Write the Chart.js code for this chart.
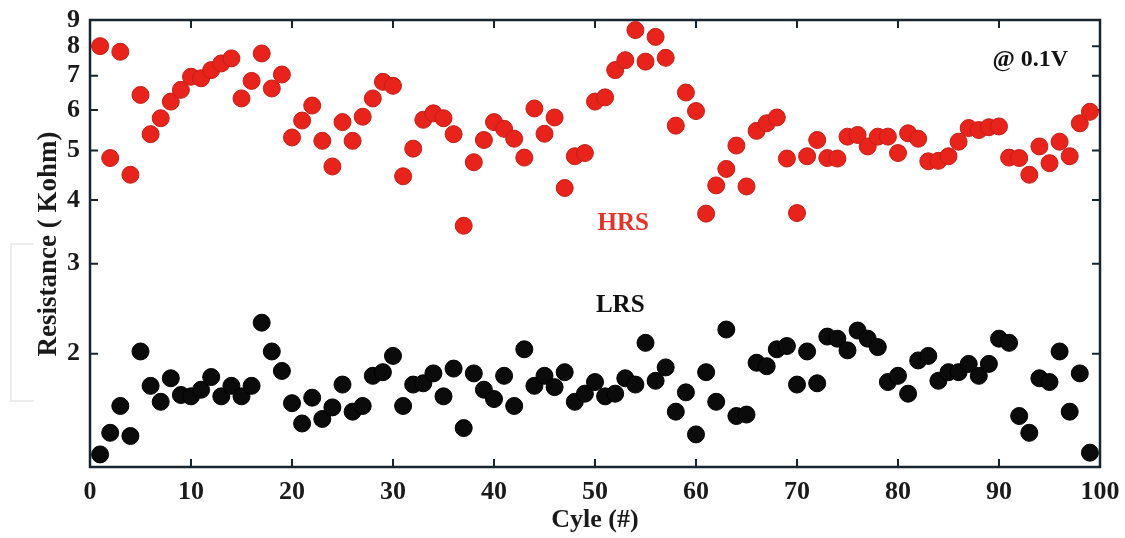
<!DOCTYPE html>
<html>
<head>
<meta charset="utf-8">
<script src="https://cdn.jsdelivr.net/npm/chart.js@4.4.1/dist/chart.umd.min.js"></script>
<style>
  html, body { margin: 0; padding: 0; background: #fff; }
  #wrap { position: relative; width: 1125px; height: 538px; }
  #bracket { position: absolute; left: 10px; top: 243px; width: 22px; height: 155px;
             border: 2px solid #ececec; border-right: none; }
</style>
</head>
<body>
<div id="wrap">
  <div id="bracket"></div>
  <canvas id="chart" width="1125" height="538"></canvas>
</div>
<script>
// --- DATA ---
const cycles = Array.from({ length: 99 }, (_, i) => i + 1);

// HRS, kOhm
const hrs = [
  8.00, 4.83, 7.80, 4.48, 6.42, 5.38, 5.78, 6.23, 6.57, 6.97,
  6.92, 7.18, 7.40, 7.57, 6.32, 6.84, 7.74, 6.61, 7.04, 5.30,
  5.72, 6.12, 5.22, 4.65, 5.68, 5.22, 5.82, 6.32, 6.81, 6.69,
  4.45, 5.04, 5.74, 5.91, 5.78, 5.38, 3.56, 4.74, 5.24, 5.68,
  5.51, 5.27, 4.84, 6.04, 5.39, 5.80, 4.22, 4.87, 4.94, 6.23,
  6.35, 7.18, 7.51, 8.60, 7.46, 8.34, 7.59, 5.59, 6.49, 5.97,
  3.76, 4.27, 4.60, 5.11, 4.25, 5.46, 5.65, 5.80, 4.82, 3.77,
  4.87, 5.24, 4.83, 4.82, 5.32, 5.36, 5.09, 5.32, 5.32, 4.94,
  5.40, 5.27, 4.76, 4.77, 4.87, 5.20, 5.53, 5.48, 5.55, 5.57,
  4.84, 4.83, 4.48, 5.09, 4.72, 5.20, 4.87, 5.65, 5.95
];

// LRS, kOhm
const lrs = [
  1.27, 1.40, 1.58, 1.38, 2.02, 1.73, 1.61, 1.79, 1.66, 1.65,
  1.70, 1.80, 1.65, 1.73, 1.65, 1.73, 2.30, 2.02, 1.85, 1.60,
  1.46, 1.64, 1.49, 1.57, 1.74, 1.54, 1.58, 1.81, 1.84, 1.98,
  1.58, 1.74, 1.75, 1.83, 1.65, 1.87, 1.43, 1.83, 1.70, 1.63,
  1.81, 1.58, 2.04, 1.73, 1.81, 1.72, 1.84, 1.61, 1.67, 1.76,
  1.65, 1.67, 1.79, 1.74, 2.10, 1.77, 1.88, 1.54, 1.68, 1.39,
  1.84, 1.61, 2.23, 1.51, 1.52, 1.92, 1.89, 2.04, 2.07, 1.74,
  2.02, 1.75, 2.16, 2.14, 2.03, 2.22, 2.14, 2.06, 1.76, 1.81,
  1.67, 1.94, 1.98, 1.77, 1.84, 1.84, 1.91, 1.81, 1.91, 2.14,
  2.10, 1.51, 1.40, 1.79, 1.76, 2.02, 1.54, 1.83, 1.28
];

const yTicks = [2, 3, 4, 5, 6, 7, 8, 9];
const xTicks = [0, 10, 20, 30, 40, 50, 60, 70, 80, 90, 100];

// text notes placed in data coordinates
const notes = [
  { text: 'HRS', x: 52.8, y: 3.6, color: '#e0352c', size: 25 },
  { text: 'LRS', x: 52.5, y: 2.49, color: '#111111', size: 25 },
  { text: '@ 0.1V', x: 93.1, y: 7.52, color: '#111111', size: 24 }
];

const FONT = '"Liberation Serif", "Times New Roman", serif';
const INK = '#16252f';

// frame, inward ticks, titles and notes
const framePlugin = {
  id: 'frame',
  beforeDatasetsDraw(chart) {
    const { ctx, chartArea: a, scales: { x, y } } = chart;
    ctx.save();
    ctx.strokeStyle = INK;
    ctx.lineWidth = 2;
    xTicks.forEach(v => {
      const px = x.getPixelForValue(v);
      ctx.beginPath();
      ctx.moveTo(px, a.bottom); ctx.lineTo(px, a.bottom - 8);
      ctx.moveTo(px, a.top); ctx.lineTo(px, a.top + 8);
      ctx.stroke();
    });
    yTicks.forEach(v => {
      const py = y.getPixelForValue(v);
      ctx.beginPath();
      ctx.moveTo(a.left, py); ctx.lineTo(a.left + 8, py);
      ctx.moveTo(a.right, py); ctx.lineTo(a.right - 8, py);
      ctx.stroke();
    });
    ctx.lineWidth = 2.5;
    ctx.strokeRect(a.left, a.top, a.right - a.left, a.bottom - a.top);
    ctx.restore();
  },
  afterDraw(chart) {
    const { ctx, scales: { x, y } } = chart;
    ctx.save();
    ctx.textAlign = 'center';
    ctx.textBaseline = 'middle';
    notes.forEach(n => {
      ctx.font = 'bold ' + n.size + 'px ' + FONT;
      ctx.fillStyle = n.color;
      ctx.fillText(n.text, x.getPixelForValue(n.x), y.getPixelForValue(n.y));
    });
    // axis titles
    ctx.fillStyle = '#1a1a1a';
    ctx.font = 'bold 26px ' + FONT;
    ctx.fillText('Cyle (#)', 595, 520);
    ctx.translate(49, 244);
    ctx.rotate(-Math.PI / 2);
    ctx.font = 'bold 27px ' + FONT;
    ctx.fillText('Resistance ( Kohm)', 0, 0);
    ctx.restore();
  }
};

new Chart(document.getElementById('chart'), {
  type: 'scatter',
  data: {
    datasets: [
      {
        label: 'HRS',
        data: cycles.map((c, i) => ({ x: c, y: hrs[i] })),
        backgroundColor: '#e8231b',
        borderColor: '#c01f18',
        borderWidth: 1,
        pointRadius: 8.5,
        clip: false
      },
      {
        label: 'LRS',
        data: cycles.map((c, i) => ({ x: c, y: lrs[i] })),
        backgroundColor: '#0b0b0b',
        borderColor: '#000000',
        borderWidth: 1,
        pointRadius: 8.5,
        clip: false
      }
    ]
  },
  options: {
    responsive: false,
    animation: false,
    layout: { padding: { left: 0, top: 20, right: 25, bottom: 0 } },
    plugins: {
      legend: { display: false },
      tooltip: { enabled: false }
    },
    scales: {
      x: {
        type: 'linear',
        min: 0,
        max: 100,
        grid: { display: false, drawTicks: false },
        border: { display: false },
        afterBuildTicks: s => { s.ticks = xTicks.map(v => ({ value: v })); },
        afterFit: s => { s.height = 71; s.paddingLeft = 0; s.paddingRight = 0; },
        ticks: {
          padding: 10,
          color: '#1a1a1a',
          font: { family: FONT, size: 26, weight: 'bold' },
          maxRotation: 0
        }
      },
      y: {
        type: 'logarithmic',
        min: 1.2,
        max: 9,
        grid: { display: false, drawTicks: false },
        border: { display: false },
        afterBuildTicks: s => { s.ticks = yTicks.map(v => ({ value: v })); },
        afterFit: s => { s.width = 90; s.paddingTop = 0; s.paddingBottom = 0; },
        ticks: {
          padding: 10,
          color: '#1a1a1a',
          font: { family: FONT, size: 26, weight: 'bold' },
          callback: v => String(v)
        }
      }
    }
  },
  plugins: [framePlugin]
});
</script>
</body>
</html>
